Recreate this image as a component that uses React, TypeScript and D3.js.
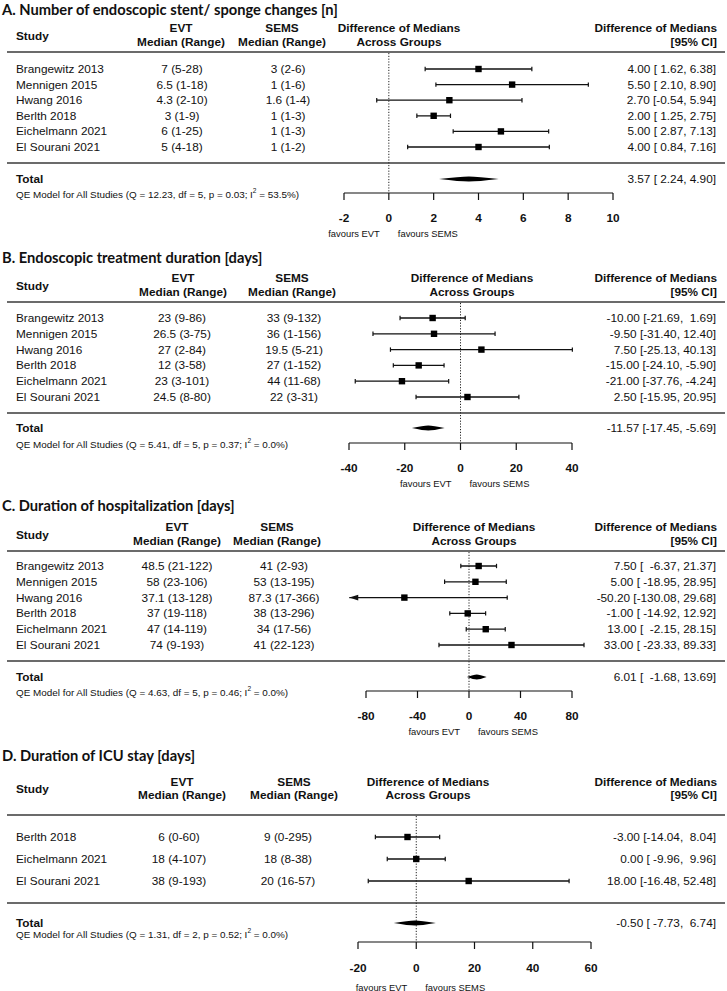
import React from "react";
import * as d3 from "d3";

// ---------- DATA ----------
const studiesA = ["Brangewitz 2013", "Mennigen 2015", "Hwang 2016", "Berlth 2018", "Eichelmann 2021", "El Sourani 2021"];
const evtA = ["7 (5-28)", "6.5 (1-18)", "4.3 (2-10)", "3 (1-9)", "6 (1-25)", "5 (4-18)"];
const semsA = ["3 (2-6)", "1 (1-6)", "1.6 (1-4)", "1 (1-3)", "1 (1-3)", "1 (1-2)"];
const estA = [4.0, 5.5, 2.7, 2.0, 5.0, 4.0];
const lowerA = [1.62, 2.1, -0.54, 1.25, 2.87, 0.84];
const upperA = [6.38, 8.9, 5.94, 2.75, 7.13, 7.16];
const totalA = [3.57, 2.24, 4.9];
const qeA = [12.23, 5, 0.03, 53.5];
const ticksA = [-2, 0, 2, 4, 6, 8, 10];

const studiesB = ["Brangewitz 2013", "Mennigen 2015", "Hwang 2016", "Berlth 2018", "Eichelmann 2021", "El Sourani 2021"];
const evtB = ["23 (9-86)", "26.5 (3-75)", "27 (2-84)", "12 (3-58)", "23 (3-101)", "24.5 (8-80)"];
const semsB = ["33 (9-132)", "36 (1-156)", "19.5 (5-21)", "27 (1-152)", "44 (11-68)", "22 (3-31)"];
const estB = [-10.0, -9.5, 7.5, -15.0, -21.0, 2.5];
const lowerB = [-21.69, -31.4, -25.13, -24.1, -37.76, -15.95];
const upperB = [1.69, 12.4, 40.13, -5.9, -4.24, 20.95];
const totalB = [-11.57, -17.45, -5.69];
const qeB = [5.41, 5, 0.37, 0.0];
const ticksB = [-40, -20, 0, 20, 40];

const studiesC = ["Brangewitz 2013", "Mennigen 2015", "Hwang 2016", "Berlth 2018", "Eichelmann 2021", "El Sourani 2021"];
const evtC = ["48.5 (21-122)", "58 (23-106)", "37.1 (13-128)", "37 (19-118)", "47 (14-119)", "74 (9-193)"];
const semsC = ["41 (2-93)", "53 (13-195)", "87.3 (17-366)", "38 (13-296)", "34 (17-56)", "41 (22-123)"];
const estC = [7.5, 5.0, -50.2, -1.0, 13.0, 33.0];
const lowerC = [-6.37, -18.95, -130.08, -14.92, -2.15, -23.33];
const upperC = [21.37, 28.95, 29.68, 12.92, 28.15, 89.33];
const totalC = [6.01, -1.68, 13.69];
const qeC = [4.63, 5, 0.46, 0.0];
const ticksC = [-80, -40, 0, 40, 80];

const studiesD = ["Berlth 2018", "Eichelmann 2021", "El Sourani 2021"];
const evtD = ["6 (0-60)", "18 (4-107)", "38 (9-193)"];
const semsD = ["9 (0-295)", "18 (8-38)", "20 (16-57)"];
const estD = [-3.0, 0.0, 18.0];
const lowerD = [-14.04, -9.96, -16.48];
const upperD = [8.04, 9.96, 52.48];
const totalD = [-0.5, -7.73, 6.74];
const qeD = [1.31, 2, 0.52, 0.0];
const ticksD = [-20, 0, 20, 40, 60];

const titles = [
  "A. Number of endoscopic stent/ sponge changes [n]",
  "B. Endoscopic treatment duration [days]",
  "C. Duration of hospitalization [days]",
  "D. Duration of ICU stay [days]",
];

// ---------- LAYOUT ----------
const ARIAL = "'Liberation Sans', Arial, Helvetica, sans-serif";
const TITLE_FONT = "Lato, 'Open Sans', sans-serif";

const layouts = [
  { title: 9, h1: 28, h2: 42, study: 36, top: 52, row0: 69, step: 15.6, bottom: 163, total: 179, qe: 194, axis: 193, tickY: 218, fav: 233, x0: 344, x1: 613, hdrX: 399, evtH: 181, evtV: 182, semsH: 282, semsV: 288, clipLo: -1e9, clipHi: 1e9 },
  { title: 257, h1: 278, h2: 292, study: 286, top: 302, row0: 318, step: 15.8, bottom: 413, total: 428, qe: 444, axis: 443, tickY: 468, fav: 483, x0: 349, x1: 572, hdrX: 472, evtH: 183, evtV: 182, semsH: 292, semsV: 294, clipLo: -1e9, clipHi: 1e9 },
  { title: 505, h1: 527, h2: 541, study: 535, top: 551, row0: 566, step: 15.8, bottom: 661, total: 677, qe: 692, axis: 691, tickY: 716, fav: 731, x0: 366, x1: 572, hdrX: 474, evtH: 177, evtV: 177, semsH: 277, semsV: 284, clipLo: -93, clipHi: 1e9 },
  { title: 755, h1: 782, h2: 795, study: 789, top: 815, row0: 837, step: 22, bottom: 903, total: 923, qe: 934, axis: 942, tickY: 968, fav: 987, x0: 358, x1: 591, hdrX: 428, evtH: 182, evtV: 179, semsH: 294, semsV: 288, clipLo: -1e9, clipHi: 1e9 },
];

const panels = [
  { studies: studiesA, evt: evtA, sems: semsA, est: estA, lower: lowerA, upper: upperA, total: totalA, qe: qeA, ticks: ticksA },
  { studies: studiesB, evt: evtB, sems: semsB, est: estB, lower: lowerB, upper: upperB, total: totalB, qe: qeB, ticks: ticksB },
  { studies: studiesC, evt: evtC, sems: semsC, est: estC, lower: lowerC, upper: upperC, total: totalC, qe: qeC, ticks: ticksC },
  { studies: studiesD, evt: evtD, sems: semsD, est: estD, lower: lowerD, upper: upperD, total: totalD, qe: qeD, ticks: ticksD },
];

const fmt = (v: number) => v.toFixed(2);
const LEFT_LINE = 7;
const RIGHT_LINE = 725;
const RIGHT_TEXT = 716;

function Panel({ p, L, title }: any) {
  const x = d3.scaleLinear().domain([p.ticks[0], p.ticks[p.ticks.length - 1]]).range([L.x0, L.x1]);
  const rowY = (i: number) => L.row0 + i * L.step;
  const allLo = [...p.lower, p.total[1]].map(fmt);
  const allHi = [...p.upper, p.total[2]].map(fmt);
  const loW = d3.max(allLo, (s: string) => s.length) as number;
  const hiW = d3.max(allHi, (s: string) => s.length) as number;
  const ciText = (e: number, lo: number, hi: number) =>
    `${fmt(e)} [${fmt(lo).padStart(loW, " ")}, ${fmt(hi).padStart(hiW, " ")}]`;
  const x0 = x(0);
  const [tEst, tLo, tHi] = p.total;
  const dh = 2.5;
  const diamond =
    `M${x(tLo)},${L.total} Q${x(tEst) - (x(tEst) - x(tLo)) * 0.3},${L.total - dh} ${x(tEst)},${L.total - dh} ` +
    `Q${x(tEst) + (x(tHi) - x(tEst)) * 0.3},${L.total - dh} ${x(tHi)},${L.total} ` +
    `Q${x(tEst) + (x(tHi) - x(tEst)) * 0.3},${L.total + dh} ${x(tEst)},${L.total + dh} ` +
    `Q${x(tEst) - (x(tEst) - x(tLo)) * 0.3},${L.total + dh} ${x(tLo)},${L.total} Z`;
  const sq = 6.4;
  const cap = 2.2;
  const [Q, df, pv, I2] = p.qe;

  return (
    <g>
      <text x={2} y={L.title} dominantBaseline="central" fontFamily={TITLE_FONT} fontWeight={700} fontSize={14.7} fill="#111">
        {title}
      </text>
      {/* headers */}
      <g fontFamily={ARIAL} fontWeight={700} fontSize={11.8} fill="#111">
        <text x={16} y={L.study} dominantBaseline="central">Study</text>
        <text x={L.evtH} y={L.h1} textAnchor="middle" dominantBaseline="central">EVT</text>
        <text x={L.evtH} y={L.h2} textAnchor="middle" dominantBaseline="central">Median (Range)</text>
        <text x={L.semsH} y={L.h1} textAnchor="middle" dominantBaseline="central">SEMS</text>
        <text x={L.semsH} y={L.h2} textAnchor="middle" dominantBaseline="central">Median (Range)</text>
        <text x={L.hdrX} y={L.h1} textAnchor="middle" dominantBaseline="central">Difference of Medians</text>
        <text x={L.hdrX} y={L.h2} textAnchor="middle" dominantBaseline="central">Across Groups</text>
        <text x={RIGHT_TEXT + 1} y={L.h1} textAnchor="end" dominantBaseline="central">Difference of Medians</text>
        <text x={RIGHT_TEXT + 1} y={L.h2} textAnchor="end" dominantBaseline="central">[95% CI]</text>
      </g>
      <line x1={LEFT_LINE} x2={RIGHT_LINE} y1={L.top} y2={L.top} stroke="#3a3a3a" strokeWidth={1.7} />
      <line x1={LEFT_LINE} x2={RIGHT_LINE} y1={L.bottom} y2={L.bottom} stroke="#3a3a3a" strokeWidth={1.7} />
      {/* reference line */}
      <line x1={x0} x2={x0} y1={L.top + 1} y2={L.axis} stroke="#222" strokeWidth={1} strokeDasharray="1.2,1.6" />
      {/* rows */}
      <g fontFamily={ARIAL} fontSize={11.8} fill="#111">
        {p.studies.map((s: string, i: number) => {
          const y = rowY(i);
          const lo = Math.max(p.lower[i], L.clipLo);
          const hi = Math.min(p.upper[i], L.clipHi);
          const clippedLo = p.lower[i] < L.clipLo;
          return (
            <g key={s}>
              <text x={16} y={y} dominantBaseline="central">{s}</text>
              <text x={L.evtV} y={y} textAnchor="middle" dominantBaseline="central">{p.evt[i]}</text>
              <text x={L.semsV} y={y} textAnchor="middle" dominantBaseline="central">{p.sems[i]}</text>
              <text x={RIGHT_TEXT} y={y} textAnchor="end" dominantBaseline="central" style={{ whiteSpace: "pre" }}>
                {ciText(p.est[i], p.lower[i], p.upper[i])}
              </text>
              <line x1={x(lo)} x2={x(hi)} y1={y} y2={y} stroke="#111" strokeWidth={1.3} />
              {clippedLo ? (
                <path d={`M${x(lo)},${y} L${x(lo) + 9},${y - 2.8} L${x(lo) + 9},${y + 2.8} Z`} fill="#111" />
              ) : (
                <line x1={x(lo)} x2={x(lo)} y1={y - cap} y2={y + cap} stroke="#111" strokeWidth={1.2} />
              )}
              <line x1={x(hi)} x2={x(hi)} y1={y - cap} y2={y + cap} stroke="#111" strokeWidth={1.2} />
              <rect x={x(p.est[i]) - sq / 2} y={y - sq / 2} width={sq} height={sq} fill="#000" />
            </g>
          );
        })}
        <text x={16} y={L.total} dominantBaseline="central" fontWeight={700}>Total</text>
        <text x={RIGHT_TEXT} y={L.total} textAnchor="end" dominantBaseline="central" style={{ whiteSpace: "pre" }}>
          {ciText(tEst, tLo, tHi)}
        </text>
        <text x={16} y={L.qe} dominantBaseline="central" fontSize={9.9}>
          {`QE Model for All Studies (Q = ${Q.toFixed(2)}, df = ${df}, p = ${pv.toFixed(2)}; I`}
          <tspan dy={-4} fontSize={6.6}>2</tspan>
          <tspan dy={4}>{` = ${I2.toFixed(1)}%)`}</tspan>
        </text>
      </g>
      <path d={diamond} fill="#000" />
      {/* axis */}
      <line x1={x(p.ticks[0])} x2={x(p.ticks[p.ticks.length - 1])} y1={L.axis} y2={L.axis} stroke="#111" strokeWidth={1.2} />
      {p.ticks.map((t: number) => (
        <g key={t}>
          <line x1={x(t)} x2={x(t)} y1={L.axis} y2={L.axis + 7} stroke="#111" strokeWidth={1.2} />
          <text x={x(t)} y={L.tickY} textAnchor="middle" dominantBaseline="central" fontFamily={ARIAL} fontWeight={700} fontSize={11.8} fill="#111">
            {t}
          </text>
        </g>
      ))}
      <text x={x0 - 9} y={L.fav} textAnchor="end" dominantBaseline="central" fontFamily={ARIAL} fontSize={9.4} fill="#111">favours EVT</text>
      <text x={x0 + 9} y={L.fav} textAnchor="start" dominantBaseline="central" fontFamily={ARIAL} fontSize={9.4} fill="#111">favours SEMS</text>
    </g>
  );
}

export default function App() {
  return (
    <svg width={727} height={991} viewBox="0 0 727 991" style={{ position: "absolute", left: 0, top: 0, background: "#fff" }}>
      <rect width={727} height={991} fill="#fff" />
      {panels.map((p, i) => (
        <Panel key={i} p={p} L={layouts[i]} title={titles[i]} />
      ))}
    </svg>
  );
}
